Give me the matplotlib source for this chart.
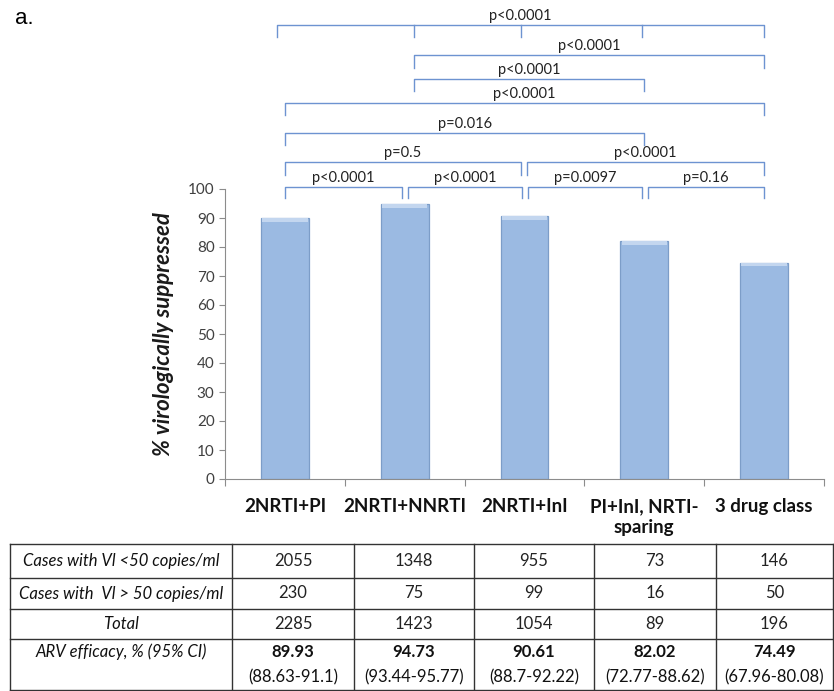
import matplotlib
matplotlib.use("Agg")
import matplotlib.pyplot as plt

plt.rcParams["font.family"] = ["Lato", "DejaVu Sans"]

# chart data
groups = ["2NRTI+PI", "2NRTI+NNRTI", "2NRTI+InI", "PI+InI, NRTI-\nsparing", "3 drug class"]
suppressed = [89.93, 94.73, 90.61, 82.02, 74.49]

# significance brackets: (left bar, right bar, label, interior ticks)
pairs = [(0, 4, "p<0.0001", [1, 2, 3]),
         (1, 4, "p<0.0001", []),
         (1, 3, "p<0.0001", []),
         (0, 4, "p<0.0001", []),
         (0, 3, "p=0.016", []),
         (0, 2, "p=0.5", []),
         (2, 4, "p<0.0001", []),
         (0, 1, "p<0.0001", []),
         (1, 2, "p<0.0001", []),
         (2, 3, "p=0.0097", []),
         (3, 4, "p=0.16", [])]

# table data
row_labels = ["Cases with Vl <50 copies/ml", "Cases with  Vl > 50 copies/ml", "Total",
              "ARV efficacy, % (95% CI)"]
vl_below = [2055, 1348, 955, 73, 146]
vl_above = [230, 75, 99, 16, 50]
totals = [2285, 1423, 1054, 89, 196]
efficacy = ["89.93", "94.73", "90.61", "82.02", "74.49"]
ci = ["(88.63-91.1)", "(93.44-95.77)", "(88.7-92.22)", "(72.77-88.62)", "(67.96-80.08)"]

W, H = 834, 691
fig = plt.figure(figsize=(W / 100, H / 100), dpi=100)
ax = fig.add_axes([225 / W, 1 - 479 / H, (824 - 225) / W, (479 - 189) / H])

x = list(range(len(groups)))
ax.bar(x, suppressed, width=0.4, color="#9bbae2", edgecolor="#7c9dc8", linewidth=0.9, zorder=2)
# light bevel along the top of each bar
ax.bar(x, [1.2] * len(x), bottom=[v - 1.2 for v in suppressed], width=0.38, color="#c3d6ef",
       linewidth=0, zorder=3)
ax.set_xlim(-0.5, 4.5)
ax.set_ylim(0, 100)
ax.set_yticks(range(0, 101, 10))
ax.set_xticks([i - 0.5 for i in range(len(groups) + 1)])
ax.set_xticklabels([])
ax.tick_params(axis="y", colors="#8c8c8c", labelcolor="#404040", labelsize=11, length=4)
ax.tick_params(axis="x", colors="#8c8c8c", length=5)
for s in ["top", "right"]:
    ax.spines[s].set_visible(False)
for s in ["left", "bottom"]:
    ax.spines[s].set_color("#8c8c8c")
ax.set_ylabel("% virologically suppressed", fontsize=16, fontweight="bold", fontstyle="italic",
              labelpad=10, color="#1a1a1a")

# bracket layout (levels in data units above the axis)
levels = [156.6, 146.2, 137.9, 129.7, 119.3, 109.3, 109.3, 100.7, 100.7, 100.7, 100.7]
drops = [4.2, 4.5, 4.1, 4.2, 4.1, 4.5, 4.5, 3.8, 3.8, 3.8, 3.8]
offsets = [(-0.065, 0.0), (0.08, 0.0), (0.08, 0.0), (0.0, 0.0), (0.0, 0.0), (0.0, -0.03),
           (0.02, 0.0), (0.0, -0.02), (0.03, -0.02), (0.03, -0.02), (0.03, 0.0)]
inner_shift = {1: 0.08, 2: -0.03, 3: -0.02}
bc = "#6d93d1"
for (a, b, lab, inner), lv, dr, (oa, ob) in zip(pairs, levels, drops, offsets):
    xa, xb = a + oa, b + ob
    ax.plot([xa, xa, xb, xb], [lv - dr, lv, lv, lv - dr], color=bc, lw=1, clip_on=False)
    for t in inner:
        ax.plot([t + inner_shift[t]] * 2, [lv - dr, lv], color=bc, lw=1, clip_on=False)
    ax.text((xa + xb) / 2, lv + 0.6, lab, ha="center", va="bottom", fontsize=10.5, color="#222222")

# category labels
for i, g in enumerate(groups):
    ax.text(i, -6.5, g, ha="center", va="top", fontsize=13.5, fontweight="bold", color="#111111",
            linespacing=1.3)

# overlay axes in pixel coordinates for table and panel letter
ov = fig.add_axes([0, 0, 1, 1])
ov.set_xlim(0, W)
ov.set_ylim(H, 0)
ov.axis("off")
ov.text(15, 18, "a.", fontsize=16, va="center", ha="left", family="Liberation Sans")

cols = [10, 232, 354, 474, 594, 716, 833]
rows = [544, 578, 609, 639, 690]
lc = "#333333"
for r in rows:
    ov.plot([cols[0], cols[-1]], [r, r], color=lc, lw=1)
for c in cols:
    ov.plot([c, c], [rows[0], rows[-1]], color=lc, lw=1)

fs = 12
ytxt = [(rows[0] + rows[1]) / 2, (rows[1] + rows[2]) / 2, (rows[2] + rows[3]) / 2, 652]
for lab, yy in zip(row_labels, ytxt):
    ov.text(121, yy, lab, ha="center", va="center", fontsize=12, fontstyle="italic", color="#111111")
for j in range(len(groups)):
    cx = (cols[j + 1] + cols[j + 2]) / 2
    ov.text(cx, ytxt[0], str(vl_below[j]), ha="center", va="center", fontsize=fs, color="#222222")
    ov.text(cx, ytxt[1], str(vl_above[j]), ha="center", va="center", fontsize=fs, color="#222222")
    ov.text(cx, ytxt[2], str(totals[j]), ha="center", va="center", fontsize=fs, color="#222222")
    ov.text(cx, 652, efficacy[j], ha="center", va="center", fontsize=fs, fontweight="bold",
            color="#111111")
    ov.text(cx, 677, ci[j], ha="center", va="center", fontsize=fs, color="#111111")

fig.savefig("out.png", dpi=100)
